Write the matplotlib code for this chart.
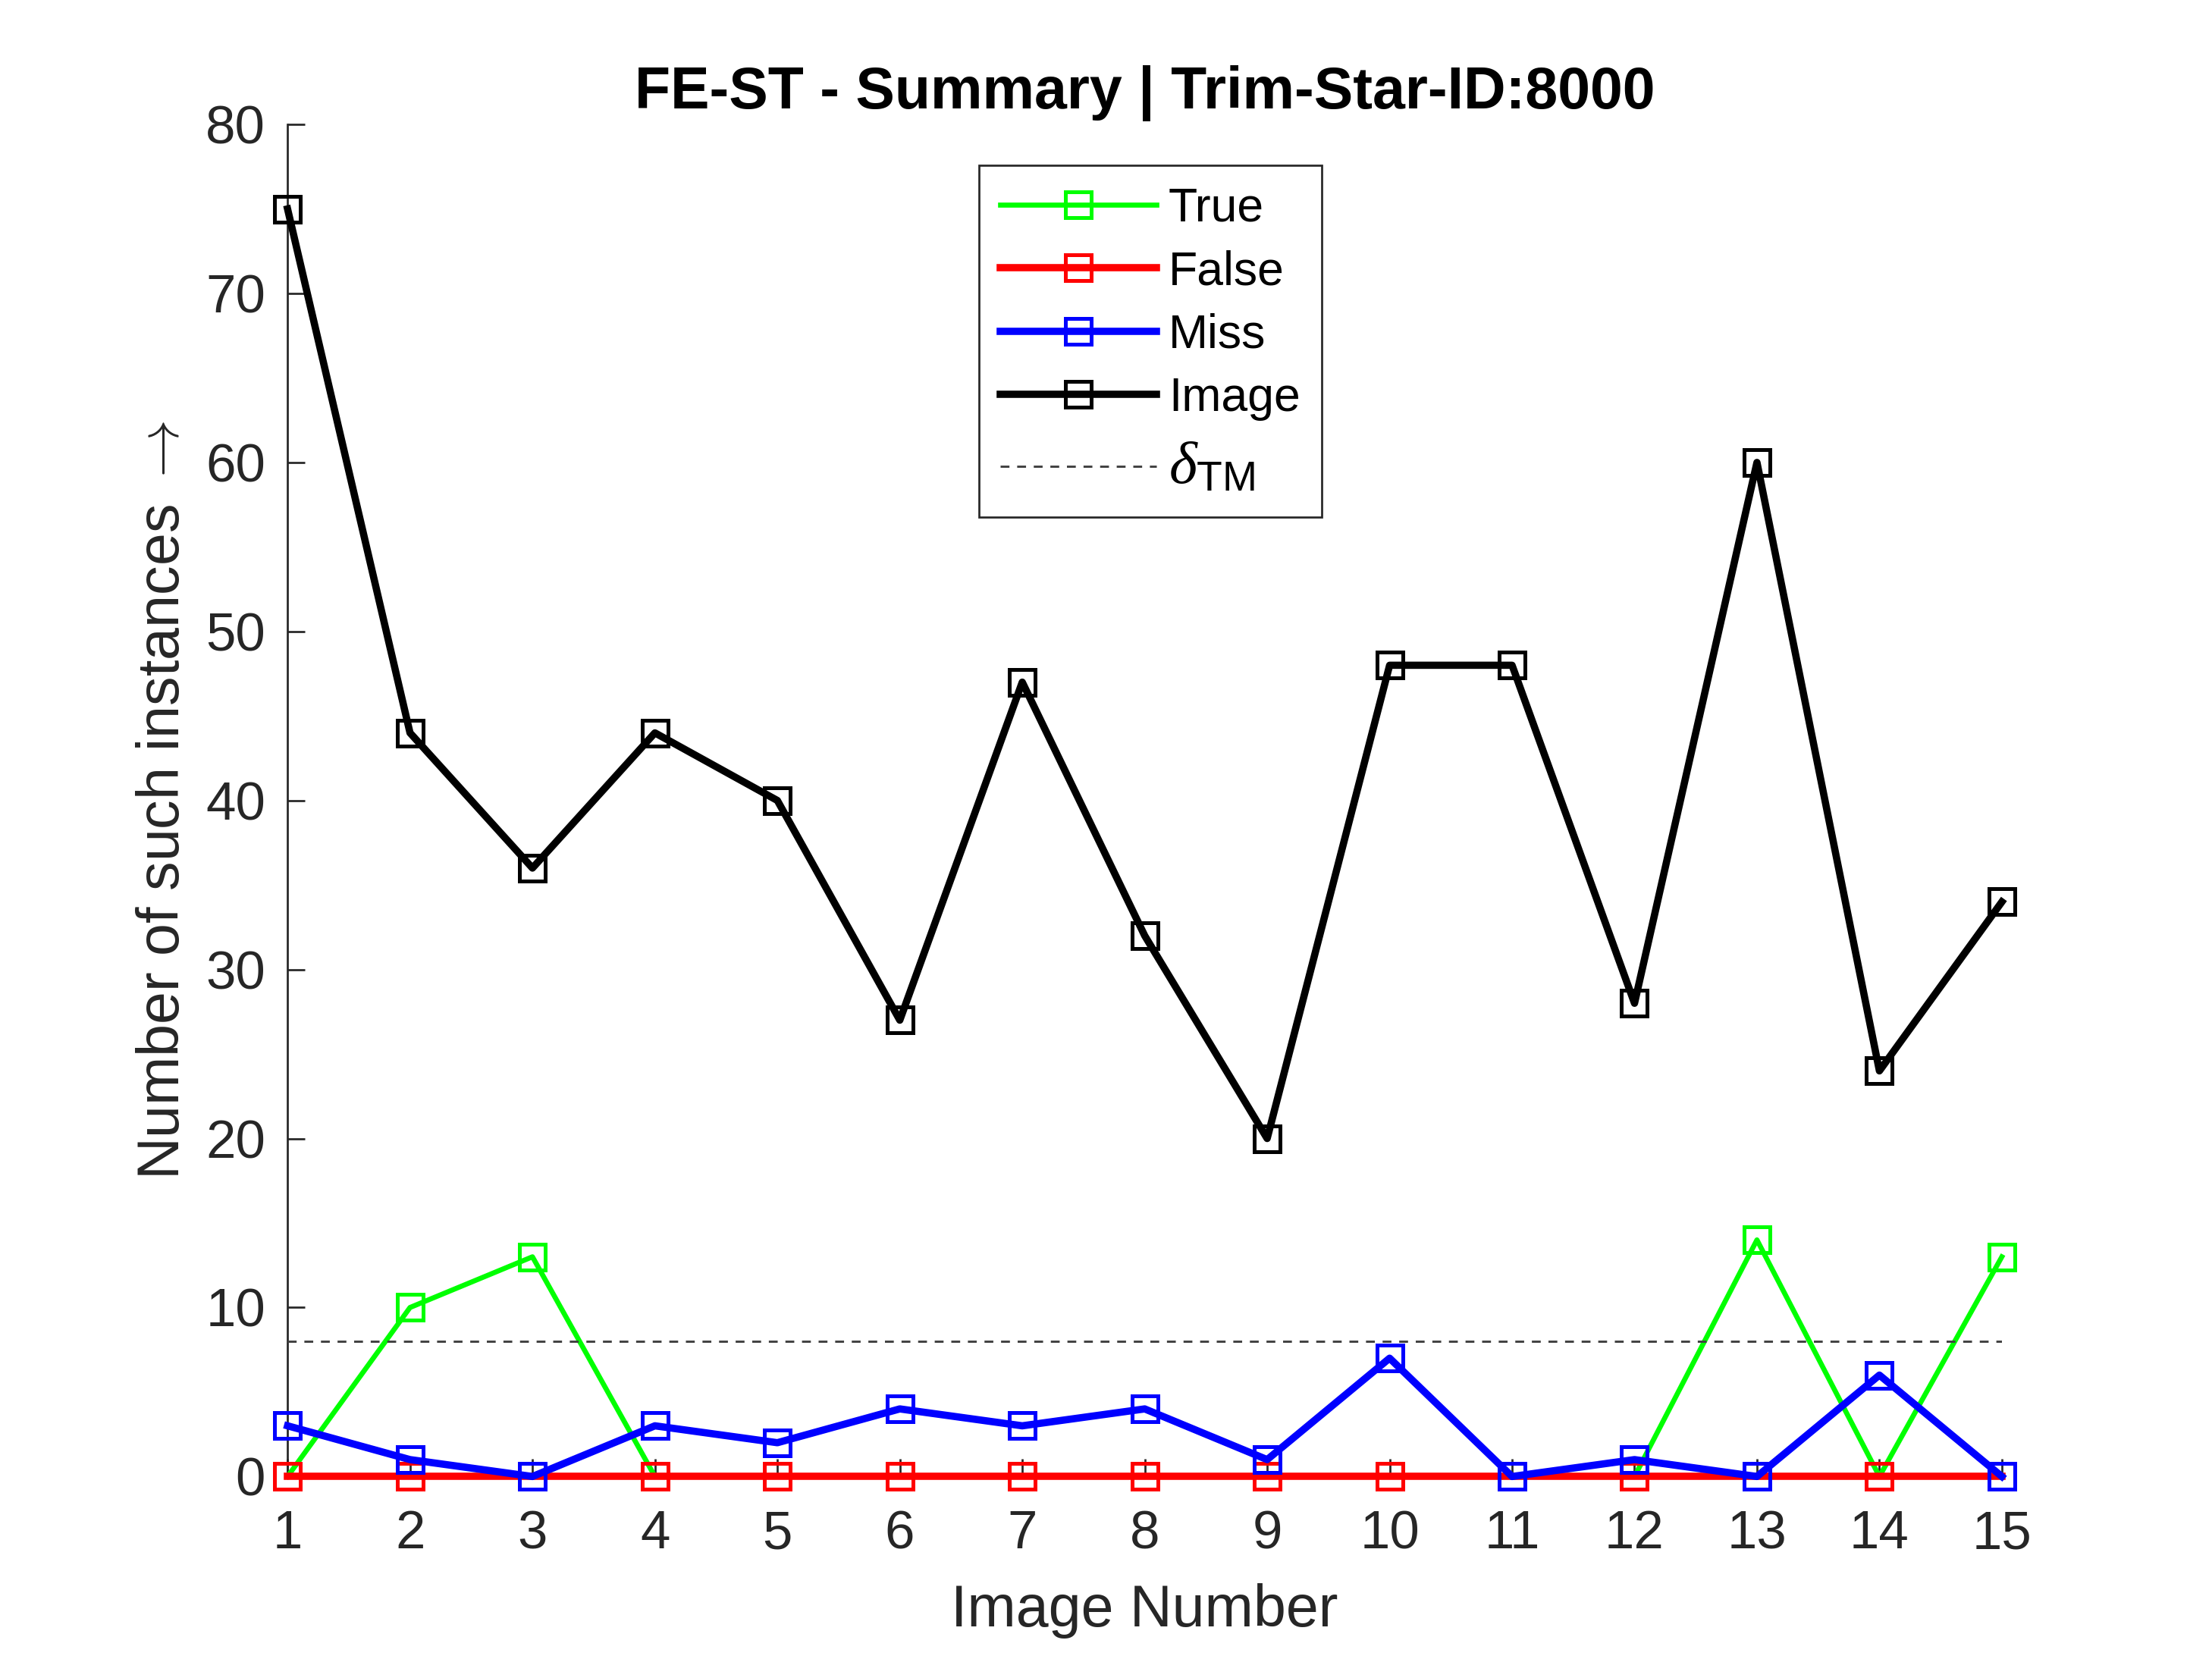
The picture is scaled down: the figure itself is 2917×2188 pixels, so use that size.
import numpy as np
import matplotlib
matplotlib.use('Agg')
import matplotlib.pyplot as plt

plt.rcParams['font.family'] = ['Liberation Sans', 'DejaVu Sans']
plt.rcParams['mathtext.fontset'] = 'custom'
plt.rcParams['mathtext.rm'] = 'Liberation Sans'
plt.rcParams['mathtext.it'] = 'Liberation Serif:italic'

#%% data
img_no = [1, 2, 3, 4, 5, 6, 7, 8, 9, 10, 11, 12, 13, 14, 15]
n_true = [0, 10, 13, 0, 0, 0, 0, 0, 0, 0, 0, 0, 14, 0, 13]
n_false = [0, 0, 0, 0, 0, 0, 0, 0, 0, 0, 0, 0, 0, 0, 0]
n_miss = [3, 1, 0, 3, 2, 4, 3, 4, 1, 7, 0, 1, 0, 6, 0]
n_image = [75, 44, 36, 44, 40, 27, 47, 32, 20, 48, 48, 28, 60, 24, 34]
delta_tm = 8

#%% plot
fig = plt.figure(figsize=(2917/300, 2188/300), dpi=300)
ax = fig.add_axes([0.13, 0.11, 0.775, 0.815])

fs = 17
ms = 8.0
mew = 1.2
ax.plot(img_no, n_true, '-s', color=(0, 1, 0), lw=1.6, ms=ms, mfc='none', mew=mew, label='True', clip_on=False)
ax.plot(img_no, n_false, '-s', color=(1, 0, 0), lw=2.3, ms=ms, mfc='none', mew=mew, label='False', clip_on=False)
ax.plot(img_no, n_miss, '-s', color=(0, 0, 1), lw=2.3, ms=ms, mfc='none', mew=mew, label='Miss', clip_on=False)
ax.plot(img_no, n_image, '-s', color='k', lw=2.3, ms=ms, mfc='none', mew=mew, label='Image', clip_on=False)
ax.plot([img_no[0], img_no[-1]], [delta_tm, delta_tm], color='#404040', lw=0.7,
        dashes=(4, 3.5), label=r'$\delta_{\rm TM}$')

ax.set_xlim(1, 15)
ax.set_ylim(0, 80)
ax.set_xticks(img_no)
ax.set_yticks(np.arange(0, 81, 10))
for s in ['top', 'right']:
    ax.spines[s].set_visible(False)
for s in ['left', 'bottom']:
    ax.spines[s].set_color('#262626')
    ax.spines[s].set_linewidth(0.65)
    ax.spines[s].set_zorder(0)
ax.tick_params(direction='in', length=5.6, width=0.65, colors='#262626', labelsize=fs)
ax.tick_params(axis='x', pad=10.5)
ax.tick_params(axis='y', pad=7)

ax.set_xlabel('Image Number', fontsize=fs + 1.5, color='#262626', labelpad=7.5)
ax.set_ylabel(r'Number of such instances $\rightarrow$', fontsize=fs + 1.5, color='#262626',
              labelpad=4.5, math_fontfamily='cm')
ax.set_title('FE-ST - Summary | Trim-Star-ID:8000', fontsize=fs + 1.5, fontweight='bold', pad=5)

leg = ax.legend(loc='upper left', bbox_to_anchor=(0.4426, 0.9005), bbox_transform=fig.transFigure,
                borderaxespad=0, fontsize=15, handlelength=3.3, handletextpad=0.25,
                labelspacing=0.39, borderpad=0.45,
                fancybox=False, framealpha=1, edgecolor='#262626')
leg.get_frame().set_linewidth(0.65)
leg.get_texts()[4].set_fontsize(19)

fig.savefig('out.png', dpi=300)
